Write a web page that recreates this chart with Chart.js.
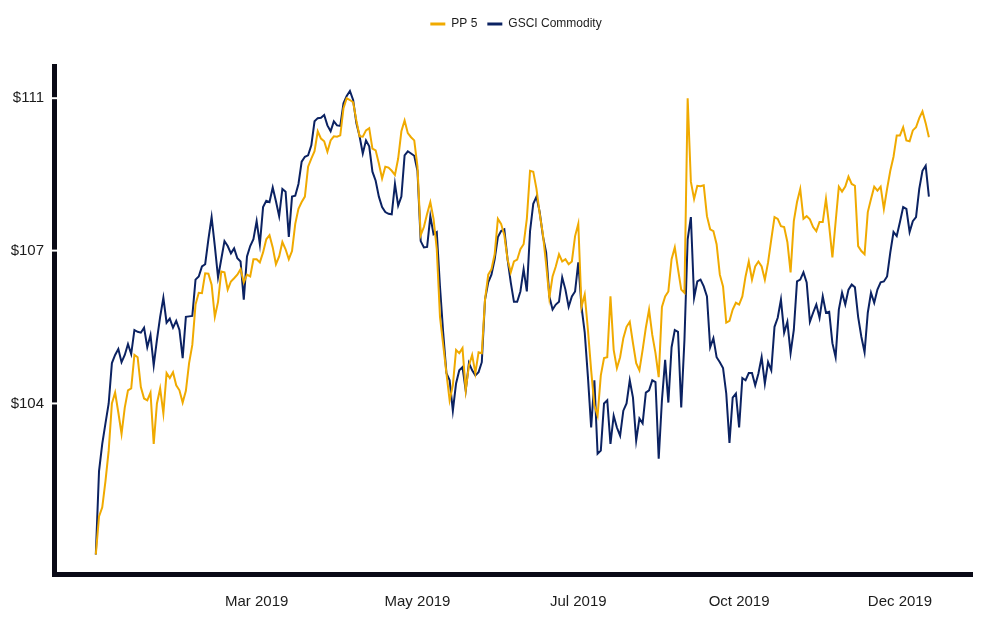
<!DOCTYPE html>
<html>
<head>
<meta charset="utf-8">
<title>PP 5 vs GSCI Commodity</title>
<script src="https://cdn.jsdelivr.net/npm/chart.js@4.4.1/dist/chart.umd.min.js"></script>
<style>
  html, body { margin: 0; padding: 0; background: #fff; }
  canvas { display: block; }
</style>
</head>
<body>
<canvas id="myChart" width="991" height="640"></canvas>
<script>
// daily values, 2019
const pp5 = [
  100.67, 101.51, 101.71, 102.29, 102.96, 104.00, 104.24, 103.80, 103.33, 103.91,
  104.29, 104.33, 105.07, 105.02, 104.36, 104.11, 104.07, 104.24, 103.11, 104.00,
  104.33, 103.78, 104.67, 104.56, 104.69, 104.40, 104.29, 104.02, 104.28, 104.89,
  105.29, 106.18, 106.44, 106.43, 106.87, 106.86, 106.62, 105.91, 106.24, 106.91,
  106.89, 106.51, 106.69, 106.76, 106.84, 106.96, 106.67, 106.84, 106.80, 107.18,
  107.18, 107.11, 107.33, 107.62, 107.71, 107.44, 107.07, 107.24, 107.56, 107.40,
  107.18, 107.36, 107.96, 108.29, 108.44, 108.56, 109.22, 109.40, 109.56, 110.00,
  109.84, 109.78, 109.55, 109.80, 109.89, 109.88, 109.91, 110.51, 110.73, 110.69,
  110.64, 110.24, 109.89, 109.88, 110.02, 110.07, 109.62, 109.58, 109.29, 108.96,
  109.22, 109.20, 109.13, 109.04, 109.40, 110.00, 110.24, 109.96, 109.87, 109.80,
  109.22, 107.71, 107.89, 108.18, 108.44, 108.07, 107.40, 105.91, 105.29, 104.67,
  104.07, 104.40, 105.18, 105.11, 105.22, 104.29, 104.84, 105.07, 104.67, 105.13,
  105.11, 106.29, 106.84, 106.96, 107.29, 108.07, 107.96, 107.71, 107.18, 106.89,
  107.13, 107.17, 107.40, 107.51, 108.07, 109.13, 109.11, 108.73, 108.18, 107.73,
  107.07, 106.33, 106.80, 107.02, 107.29, 107.13, 107.18, 107.07, 107.13, 107.69,
  107.96, 106.13, 106.40, 105.62, 104.73, 103.96, 103.73, 104.62, 105.00, 105.02,
  106.36, 105.18, 104.78, 105.02, 105.44, 105.69, 105.80, 105.33, 104.89, 104.73,
  105.18, 105.67, 106.07, 105.51, 105.11, 104.58, 106.13, 106.36, 106.47, 107.18,
  107.44, 106.96, 106.51, 106.44, 110.73, 108.89, 108.51, 108.80, 108.79, 108.81,
  108.13, 107.84, 107.80, 107.51, 106.84, 106.58, 105.78, 105.82, 106.07, 106.22,
  106.18, 106.36, 106.80, 107.13, 106.73, 107.02, 107.13, 107.02, 106.73, 107.11,
  107.62, 108.11, 108.07, 107.91, 107.89, 107.56, 106.89, 108.02, 108.44, 108.73,
  108.07, 108.13, 108.06, 107.89, 107.80, 108.00, 108.00, 108.51, 107.91, 107.22,
  108.00, 108.78, 108.67, 108.78, 109.00, 108.84, 108.80, 107.47, 107.36, 107.29,
  108.22, 108.51, 108.78, 108.69, 108.78, 108.29, 108.73, 109.13, 109.44, 109.91,
  109.91, 110.09, 109.80, 109.78, 110.02, 110.09, 110.29, 110.44, 110.18, 109.87
];

const gsci = [
  100.67, 102.51, 103.11, 103.56, 104.00, 104.89, 105.07, 105.20, 104.91, 105.07,
  105.31, 105.09, 105.62, 105.58, 105.56, 105.67, 105.24, 105.51, 104.84, 105.40,
  105.91, 106.33, 105.78, 105.87, 105.67, 105.82, 105.62, 105.00, 105.91, 105.92,
  105.93, 106.73, 106.80, 107.02, 107.07, 107.62, 108.11, 107.47, 106.78, 107.18,
  107.58, 107.47, 107.31, 107.42, 107.20, 107.13, 106.29, 107.24, 107.47, 107.62,
  108.02, 107.51, 108.33, 108.47, 108.44, 108.76, 108.46, 108.13, 108.73, 108.67,
  107.67, 108.56, 108.58, 108.84, 109.33, 109.44, 109.47, 109.69, 110.22, 110.29,
  110.30, 110.36, 110.13, 110.00, 110.22, 110.13, 110.12, 110.62, 110.78, 110.89,
  110.69, 110.18, 109.89, 109.51, 109.80, 109.67, 109.11, 108.91, 108.56, 108.33,
  108.22, 108.18, 108.17, 108.84, 108.36, 108.56, 109.47, 109.56, 109.51, 109.46,
  109.13, 107.58, 107.44, 107.45, 108.13, 107.73, 107.78, 106.58, 105.56, 104.67,
  104.51, 103.84, 104.44, 104.73, 104.80, 104.29, 104.89, 104.73, 104.62, 104.69,
  104.91, 106.29, 106.67, 106.84, 107.18, 107.67, 107.80, 107.84, 107.18, 106.67,
  106.24, 106.24, 106.47, 106.96, 106.47, 107.80, 108.40, 108.56, 108.22, 107.69,
  107.33, 106.36, 106.07, 106.18, 106.24, 106.78, 106.51, 106.13, 106.36, 106.47,
  107.11, 106.13, 105.56, 104.58, 103.47, 104.51, 102.89, 102.96, 104.00, 104.07,
  103.11, 103.73, 103.47, 103.29, 103.84, 104.00, 104.51, 104.13, 103.18, 103.67,
  103.56, 104.24, 104.29, 104.51, 104.47, 102.78, 104.07, 104.96, 104.02, 105.24,
  105.62, 105.58, 103.91, 105.40, 107.62, 108.11, 106.33, 106.69, 106.73, 106.58,
  106.36, 105.24, 105.44, 105.02, 104.91, 104.78, 104.22, 103.13, 104.13, 104.22,
  103.47, 104.56, 104.51, 104.67, 104.67, 104.40, 104.66, 105.02, 104.44, 104.91,
  104.73, 105.69, 105.89, 106.29, 105.56, 105.80, 105.11, 105.62, 106.69, 106.73,
  106.89, 106.67, 105.80, 106.00, 106.18, 105.89, 106.36, 106.00, 106.02, 105.33,
  105.02, 106.07, 106.44, 106.18, 106.51, 106.62, 106.56, 105.91, 105.47, 105.13,
  106.00, 106.44, 106.22, 106.51, 106.67, 106.69, 106.80, 107.33, 107.78, 107.69,
  108.00, 108.33, 108.29, 107.78, 108.02, 108.11, 108.73, 109.13, 109.24, 108.56
];

// x ticks sit on trading-day positions
const xTickIndex = [50, 100, 150, 200, 250];
const xTickLabels = ['Mar 2019', 'May 2019', 'Jul 2019', 'Oct 2019', 'Dec 2019'];
const yTicks = [104, 107.37, 110.73];

const GOLD = '#F0AA00';
const NAVY = '#0B2262';
const AXIS = '#0a0a16';
const TEXT = '#1c1c1c';

Chart.defaults.font.family = "'Liberation Sans', Arial, sans-serif";
Chart.defaults.color = TEXT;

// push the legend right a little, leave a gap under it,
// and cut small white notches into the y axis line at each tick
const legendShift = 30;
const legendGap = 26;
const chartTweaks = {
    id: 'chartTweaks',
    beforeInit(chart) {
        const legend = chart.legend;
        if (!legend) return;
        const fit = legend.fit;
        legend.fit = function () {
            fit.call(this);
            this.height += legendGap;
        };
    },
    afterLayout(chart) {
        if (!chart.legend) return;
        chart.legend.left += legendShift;
        chart.legend.right += legendShift;
    },
    afterDraw(chart) {
        const { ctx, scales } = chart;
        const y = scales.y;
        ctx.save();
        ctx.fillStyle = '#ffffff';
        y.ticks.forEach(t => {
            const py = y.getPixelForValue(t.value);
            ctx.fillRect(y.right - 3, py - 1, 6, 2);
        });
        ctx.restore();
    }
};

const dayIndex = pp5.map((_, i) => i);

function renderChart(canvasId) {
    const ctx = document.getElementById(canvasId).getContext('2d');

    new Chart(ctx, {
        type: 'line',
        data: {
            labels: dayIndex,
            datasets: [
                {
                    label: 'PP 5',
                    data: pp5,
                    borderColor: GOLD,
                    backgroundColor: GOLD,
                    borderWidth: 2,
                    pointRadius: 0,
                    tension: 0,
                },
                {
                    label: 'GSCI Commodity',
                    data: gsci,
                    borderColor: NAVY,
                    backgroundColor: NAVY,
                    borderWidth: 2,
                    pointRadius: 0,
                    tension: 0,
                },
            ],
        },
        options: {
            responsive: false,
            animation: false,
            layout: {
                padding: { top: 8, right: 19, bottom: 10, left: 0 },
            },
            plugins: {
                legend: {
                    position: 'top',
                    labels: {
                        usePointStyle: true,
                        pointStyle: 'line',
                        pointStyleWidth: 15,
                        padding: 10,
                        color: TEXT,
                        font: { size: 12 },
                        generateLabels(chart) {
                            const items = Chart.defaults.plugins.legend.labels.generateLabels(chart);
                            items.forEach(item => { item.lineWidth = 3; });
                            return items;
                        },
                    },
                },
                tooltip: { enabled: false },
            },
            scales: {
                x: {
                    type: 'linear',
                    min: -13,
                    max: 272.4,
                    grid: { display: false, drawTicks: false },
                    border: { color: AXIS, width: 5 },
                    afterBuildTicks: scale => {
                        scale.ticks = xTickIndex.map(v => ({ value: v }));
                    },
                    ticks: {
                        autoSkip: false,
                        maxRotation: 0,
                        padding: 19,
                        color: TEXT,
                        font: { size: 15 },
                        callback: v => xTickLabels[xTickIndex.indexOf(v)],
                    },
                },
                y: {
                    type: 'linear',
                    min: 100.24,
                    max: 111.44,
                    grid: { display: false, drawTicks: false },
                    border: { color: AXIS, width: 5 },
                    afterBuildTicks: scale => {
                        scale.ticks = yTicks.map(v => ({ value: v }));
                    },
                    afterFit: scale => {
                        scale.width = 54;
                    },
                    ticks: {
                        padding: 10,
                        color: TEXT,
                        font: { size: 15 },
                        callback: v => '$' + Math.round(v),
                    },
                },
            },
        },
        plugins: [chartTweaks],
    });
}

renderChart('myChart');
</script>
</body>
</html>
